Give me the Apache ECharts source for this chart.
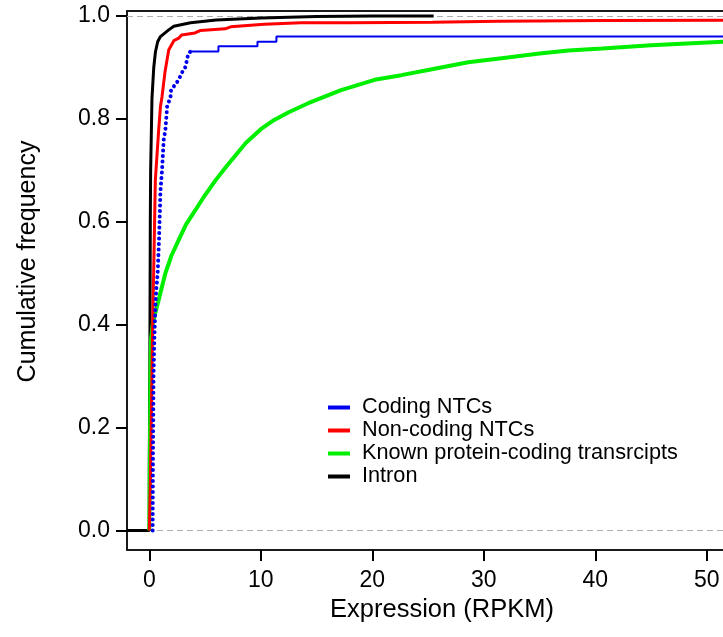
<!DOCTYPE html>
<html>
<head>
<meta charset="utf-8">
<script src="https://cdn.jsdelivr.net/npm/echarts@6/dist/echarts.min.js"></script>
<style>
html,body{margin:0;padding:0;background:#fff;}
#chart{width:723px;height:637px;}
</style>
</head>
<body>
<div id="chart"></div>
<script>
// ---- data ----
const xTicks = [0, 10, 20, 30, 40, 50];
const yTicks = [0, 0.2, 0.4, 0.6, 0.8, 1.0];

const seriesNames = ['Coding NTCs', 'Non-coding NTCs', 'Known protein-coding transrcipts', 'Intron'];

const intronX = [-2, 0, 0, 0.05, 0.09, 0.12, 0.24, 0.4, 0.55, 0.75, 1.0, 1.74, 2.2, 3.7, 6, 10, 15, 20, 25.5];
const intronY = [0, 0, 0.137, 0.33, 0.6, 0.7, 0.84, 0.9, 0.93, 0.95, 0.96, 0.973, 0.98, 0.987, 0.992, 0.996, 0.999, 1.0, 1.0];

const nonCodingX = [0, 0.1, 0.2, 0.3, 0.39, 0.54, 0.6, 0.84, 1.0, 1.14, 1.4, 1.74, 2.2, 2.64, 2.9, 4.1, 4.6, 6.8, 7.3, 10.3, 13.6, 18.1, 18.1, 25.4, 25.4, 31.3, 31.3, 40.9, 40.9, 54];
const nonCodingY = [0, 0.1, 0.25, 0.4, 0.5, 0.68, 0.7, 0.778, 0.824, 0.843, 0.89, 0.934, 0.952, 0.957, 0.963, 0.967, 0.972, 0.975, 0.979, 0.984, 0.987, 0.987, 0.988, 0.988, 0.990, 0.990, 0.991, 0.991, 0.992, 0.992];

const proteinX = [0, 0.05, 0.1, 0.15, 0.3, 0.5, 0.84, 1.44, 2.0, 2.64, 3.3, 4.14, 5.0, 5.95, 7.0, 8.65, 10, 11.2, 12.5, 14.2, 17.2, 20.2, 22.6, 25, 28.6, 31.6, 35, 37.6, 40.6, 45, 51.5, 54];
const proteinY = [0, 0.137, 0.3, 0.37, 0.4, 0.42, 0.448, 0.5, 0.535, 0.565, 0.595, 0.623, 0.652, 0.681, 0.71, 0.753, 0.78, 0.798, 0.813, 0.83, 0.856, 0.876, 0.885, 0.895, 0.91, 0.918, 0.927, 0.933, 0.937, 0.943, 0.95, 0.952];

const codingDotX = [0.3, 0.33, 0.38, 0.45, 0.54, 0.63, 0.75, 0.87, 1.0, 1.14, 1.29, 1.44, 1.6, 1.9, 1.95, 2.64, 2.9, 3.24, 3.5, 3.7];
const codingDotY = [0, 0.15, 0.3, 0.37, 0.435, 0.47, 0.5, 0.564, 0.66, 0.7, 0.759, 0.778, 0.824, 0.843, 0.856, 0.876, 0.889, 0.901, 0.927, 0.931];
const codingStepX = [3.7, 6.2, 6.2, 9.7, 9.7, 11.4, 11.4, 54];
const codingStepY = [0.931, 0.931, 0.941, 0.941, 0.950, 0.950, 0.960, 0.960];

const colors = {coding: '#0000ee', noncoding: '#ff0000', protein: '#00ee00', intron: '#000000'};

function zip(xs, ys) { return xs.map((x, i) => [x, ys[i]]); }

const chart = echarts.init(document.getElementById('chart'), null, {renderer: 'canvas'});
const font = '"Liberation Sans", Arial, Helvetica, sans-serif';
const frameLine = {show: true, onZero: false, lineStyle: {color: '#1a1a1a', width: 2}};

const option = {
  animation: false,
  backgroundColor: '#fff',
  grid: {left: 127, top: 11, bottom: 87, right: 0, show: false},
  legend: {
    orient: 'vertical',
    left: 328, top: 396, padding: 0,
    itemWidth: 22, itemHeight: 4, itemGap: 0,
    icon: 'rect',
    textStyle: {fontFamily: font, fontSize: 21.7, color: '#000', lineHeight: 23, padding: [0, 0, 0, 7]},
    data: seriesNames
  },
  xAxis: [{
    type: 'value', min: -2, max: 51.45,
    name: 'Expression (RPKM)', nameLocation: 'middle', nameGap: 46,
    nameTextStyle: {fontFamily: font, fontSize: 25.5, color: '#000', padding: [0, 0, 0, 34]},
    axisLine: frameLine,
    splitLine: {show: false},
    axisTick: {show: true, length: 11, lineStyle: {color: '#000', width: 2}, customValues: xTicks},
    axisLabel: {fontFamily: font, fontSize: 23, color: '#000', margin: 19, customValues: xTicks}
  }, {
    type: 'value', min: -2, max: 51.45, position: 'top',
    axisLine: frameLine, axisTick: {show: false}, axisLabel: {show: false}, splitLine: {show: false}
  }],
  yAxis: {
    type: 'value', min: -0.0379, max: 1.0097,
    name: 'Cumulative frequency', nameLocation: 'middle', nameGap: 86,
    nameTextStyle: {fontFamily: font, fontSize: 25, color: '#000', padding: [0, 0, 0, 38]},
    axisLine: frameLine,
    splitLine: {show: false},
    axisTick: {show: true, length: 11, lineStyle: {color: '#000', width: 2}, customValues: yTicks},
    axisLabel: {fontFamily: font, fontSize: 23, color: '#000', margin: 17,
      customValues: yTicks, formatter: v => Number(v).toFixed(1)}
  },
  series: [
    {
      name: 'Intron', type: 'line', data: zip(intronX, intronY), symbol: 'none',
      lineStyle: {color: colors.intron, width: 3}, itemStyle: {color: colors.intron}, z: 3,
      markLine: {
        silent: true, symbol: 'none', label: {show: false},
        lineStyle: {color: '#b0b0b0', type: [6, 4], width: 1},
        data: [{yAxis: 0}, {yAxis: 1}], z: 1
      }
    },
    {
      name: 'Known protein-coding transrcipts', type: 'line', data: zip(proteinX, proteinY), symbol: 'none',
      lineStyle: {color: colors.protein, width: 4}, itemStyle: {color: colors.protein}, z: 4
    },
    {
      name: 'Non-coding NTCs', type: 'line', data: zip(nonCodingX, nonCodingY), symbol: 'none',
      lineStyle: {color: colors.noncoding, width: 3}, itemStyle: {color: colors.noncoding}, z: 5
    },
    {
      name: 'Coding NTCs', type: 'line', data: zip(codingDotX, codingDotY), symbol: 'none',
      lineStyle: {color: colors.coding, width: 4, type: [0.01, 5.5], cap: 'round'}, itemStyle: {color: colors.coding}, z: 6
    },
    {
      name: 'Coding NTCs', type: 'line', data: zip(codingStepX, codingStepY), symbol: 'none',
      lineStyle: {color: colors.coding, width: 2}, itemStyle: {color: colors.coding}, z: 6
    }
  ]
};
chart.setOption(option);
</script>
</body>
</html>
